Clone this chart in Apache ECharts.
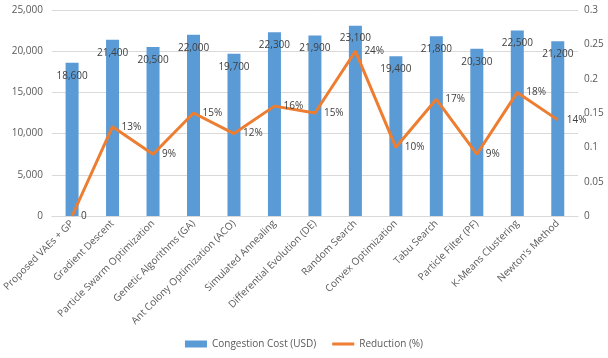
<!DOCTYPE html>
<html><head><meta charset="utf-8">
<script src="https://cdn.jsdelivr.net/npm/echarts@6/dist/echarts.min.js"></script>
<style>html,body{margin:0;padding:0;background:#fff}#c{width:608px;height:358px}</style>
</head><body><div id="c"></div>
<script>
const categories = ["Proposed VAEs + GP","Gradient Descent","Particle Swarm Optimization","Genetic Algorithms (GA)","Ant Colony Optimization (ACO)","Simulated Annealing","Differential Evolution (DE)","Random Search","Convex Optimization","Tabu Search","Particle Filter (PF)","K-Means Clustering","Newton's Method"];
const congestionCost = [18600,21400,20500,22000,19700,22300,21900,23100,19400,21800,20300,22500,21200];
const reduction = [0,0.13,0.09,0.15,0.12,0.16,0.15,0.24,0.10,0.17,0.09,0.18,0.14];
const leftTicks = {min:0,max:25000,interval:5000};
const rightTicks = {min:0,max:0.3,interval:0.05};

const font = "'Open Sans', 'Liberation Sans', sans-serif";
const chart = echarts.init(document.getElementById('c'), null, {renderer:'canvas'});
chart.setOption({
  animation:false,
  textStyle:{fontFamily:font},
  grid:{left:48,right:30,top:10,bottom:142,containLabel:false},
  legend:{
    bottom:4,left:'center',itemGap:16,
    textStyle:{color:'#595959',fontSize:10,fontFamily:font},
    data:[{name:'Congestion Cost (USD)',icon:'rect'},
          {name:'Reduction (%)',icon:'path://M0,0 L0,0 M0,2 L22,2 L22,5 L0,5 Z M0,7 L0,7'}],
    itemWidth:22,itemHeight:7
  },
  xAxis:{
    type:'category',data:categories,
    axisLine:{show:true,lineStyle:{color:'#D9D9D9'}},
    axisTick:{show:false},
    axisLabel:{rotate:45,interval:0,color:'#595959',fontSize:10,fontFamily:font,margin:6}
  },
  yAxis:[
    {type:'value',min:leftTicks.min,max:leftTicks.max,interval:leftTicks.interval,
     axisLine:{show:false},axisTick:{show:false},
     splitLine:{lineStyle:{color:'#D9D9D9'}},
     axisLabel:{color:'#595959',fontSize:10,fontFamily:font,margin:9,
       formatter:v=>v.toLocaleString('en-US')}},
    {type:'value',min:rightTicks.min,max:rightTicks.max,interval:rightTicks.interval,
     axisLine:{show:false},axisTick:{show:false},splitLine:{show:false},
     axisLabel:{color:'#595959',fontSize:10,fontFamily:font,margin:6,
       formatter:v=>String(parseFloat(v.toFixed(2)))}}
  ],
  series:[
    {name:'Congestion Cost (USD)',type:'bar',data:congestionCost,barWidth:13,
     itemStyle:{color:'#5B9BD5'},
     label:{show:true,position:'insideTop',distance:8,color:'#404040',fontSize:10,fontFamily:font,
       formatter:p=>p.value.toLocaleString('en-US')}},
    {name:'Reduction (%)',type:'line',yAxisIndex:1,data:reduction,
     symbol:'circle',symbolSize:0,showSymbol:true,
     lineStyle:{color:'#ED7D31',width:3},itemStyle:{color:'#ED7D31'},
     label:{show:true,position:'right',distance:9,color:'#404040',fontSize:10,fontFamily:font,
       formatter:p=>p.value===0?'0':Math.round(p.value*100)+'%'}}
  ]
});
</script></body></html>
